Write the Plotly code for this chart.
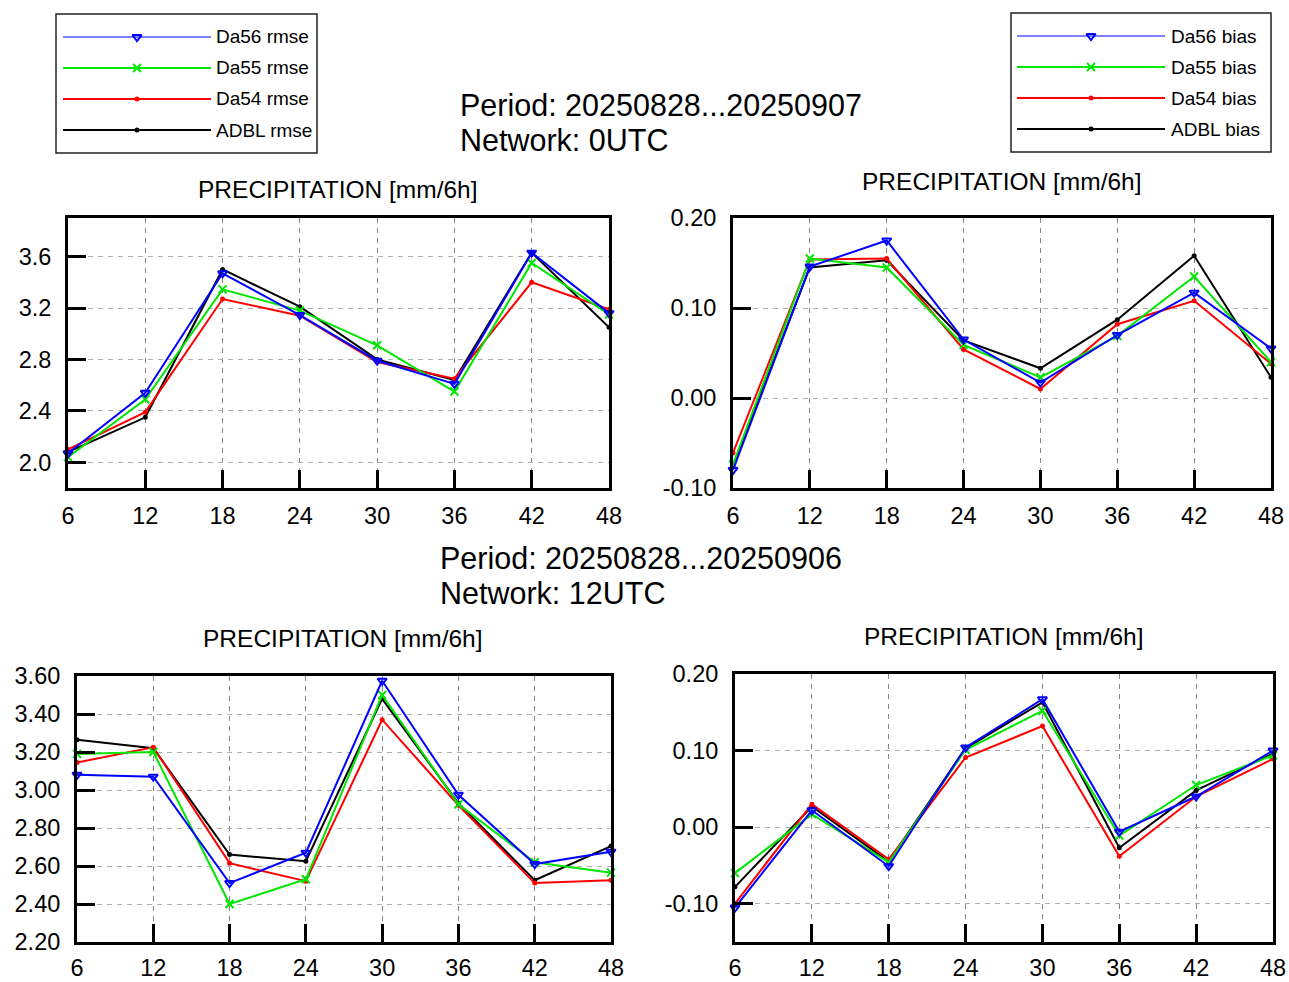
import plotly.graph_objects as go

W, H = 1289, 982
FONT = "Liberation Sans, Arial, Helvetica, sans-serif"

# Forecast lead times (hours)
leads = [6, 12, 18, 24, 30, 36, 42, 48]
x_ticks = [6, 12, 18, 24, 30, 36, 42, 48]

# Network 0UTC, RMSE
rmse00_da56 = [2.07, 2.54, 3.47, 3.145, 2.79, 2.61, 3.63, 3.16]
rmse00_da55 = [2.04, 2.49, 3.345, 3.18, 2.91, 2.55, 3.55, 3.15]
rmse00_da54 = [2.10, 2.39, 3.27, 3.14, 2.78, 2.65, 3.40, 3.19]
rmse00_adbl = [2.08, 2.35, 3.50, 3.21, 2.80, 2.64, 3.63, 3.05]

# Network 0UTC, bias
bias00_da56 = [-0.080, 0.146, 0.175, 0.065, 0.017, 0.070, 0.117, 0.055]
bias00_da55 = [-0.074, 0.155, 0.145, 0.059, 0.023, 0.069, 0.135, 0.040]
bias00_da54 = [-0.061, 0.154, 0.155, 0.054, 0.010, 0.082, 0.108, 0.038]
bias00_adbl = [-0.075, 0.145, 0.153, 0.064, 0.033, 0.087, 0.158, 0.023]

# Network 12UTC, RMSE
rmse12_da56 = [3.08, 3.07, 2.51, 2.67, 3.575, 2.975, 2.61, 2.675]
rmse12_da55 = [3.19, 3.20, 2.40, 2.53, 3.50, 2.925, 2.62, 2.565]
rmse12_da54 = [3.145, 3.225, 2.615, 2.52, 3.37, 2.92, 2.51, 2.525]
rmse12_adbl = [3.265, 3.22, 2.66, 2.625, 3.48, 2.93, 2.525, 2.705]

# Network 12UTC, bias
bias12_da56 = [-0.105, 0.022, -0.051, 0.104, 0.167, -0.006, 0.040, 0.100]
bias12_da55 = [-0.060, 0.017, -0.046, 0.101, 0.152, -0.011, 0.055, 0.094]
bias12_da54 = [-0.100, 0.030, -0.042, 0.091, 0.132, -0.038, 0.040, 0.089]
bias12_adbl = [-0.078, 0.027, -0.045, 0.103, 0.163, -0.027, 0.048, 0.096]

rmse_ticks_00 = [2.0, 2.4, 2.8, 3.2, 3.6]
rmse_ticks_12 = [2.2, 2.4, 2.6, 2.8, 3.0, 3.2, 3.4, 3.6]
bias_ticks = [-0.10, 0.00, 0.10, 0.20]

experiments = ["Da56", "Da55", "Da54", "ADBL"]
period_00 = "Period: 20250828...20250907"
period_12 = "Period: 20250828...20250906"
network_00 = "Network: 0UTC"
network_12 = "Network: 12UTC"
panel_title = "PRECIPITATION [mm/6h]"

BLUE, GREEN, RED, BLACK = "#0000ff", "#00e600", "#ff0000", "#000000"
style = {
    "Da56": dict(color=BLUE, symbol="triangle-down-open", size=8),
    "Da55": dict(color=GREEN, symbol="x-thin-open", size=8),
    "Da54": dict(color=RED, symbol="circle", size=3),
    "ADBL": dict(color=BLACK, symbol="circle", size=3),
}


def px_domain(x0, x1, y0, y1):
    return [x0 / W, x1 / W], [1 - y1 / H, 1 - y0 / H]


def tick_text(values, decimals):
    # plain ASCII hyphen for negative labels
    return [f"{v:.{decimals}f}" for v in values]


fig = go.Figure()

panels = [
    # (axis suffix, box pixels, series dict, y range, y ticks, decimals, x label standoff)
    ("", (68, 609, 218, 488),
     {"Da56": rmse00_da56, "Da55": rmse00_da55, "Da54": rmse00_da54, "ADBL": rmse00_adbl},
     [1.8, 3.9], rmse_ticks_00, 1, 5),
    ("2", (733, 1271, 218, 488),
     {"Da56": bias00_da56, "Da55": bias00_da55, "Da54": bias00_da54, "ADBL": bias00_adbl},
     [-0.10, 0.20], bias_ticks, 2, 5),
    ("3", (77, 611, 676, 942),
     {"Da56": rmse12_da56, "Da55": rmse12_da55, "Da54": rmse12_da54, "ADBL": rmse12_adbl},
     [2.2, 3.6], rmse_ticks_12, 2, 3),
    ("4", (735, 1273, 674, 942),
     {"Da56": bias12_da56, "Da55": bias12_da55, "Da54": bias12_da54, "ADBL": bias12_adbl},
     [-0.15, 0.20], bias_ticks, 2, 3),
]

layout_axes = {}
for suffix, (x0, x1, y0, y1), series, yrange, yticks, dec, xstand in panels:
    xd, yd = px_domain(x0, x1, y0, y1)
    xa, ya = "x" + suffix, "y" + suffix
    for name in ["ADBL", "Da54", "Da55", "Da56"]:
        s = style[name]
        fig.add_trace(go.Scatter(
            x=leads, y=series[name], xaxis=xa, yaxis=ya, mode="lines+markers",
            line=dict(color=s["color"], width=2),
            marker=dict(symbol=s["symbol"], size=s["size"], color=s["color"],
                        line=dict(color=s["color"], width=2)),
            cliponaxis=False, showlegend=False, name=name,
        ))
    common = dict(showline=True, linecolor="black", linewidth=3, mirror=True,
                  ticks="inside", ticklen=18, tickwidth=3, tickcolor="black",
                  showgrid=True, griddash="5px,5px", gridwidth=1, zeroline=False,
                  automargin=False,
                  tickfont=dict(family=FONT, size=23.5, color="black"))
    layout_axes["xaxis" + suffix] = dict(
        domain=xd, range=[6, 48], tickvals=x_ticks, anchor=ya,
        gridcolor="#858585", ticklabelstandoff=xstand, **common)
    layout_axes["yaxis" + suffix] = dict(
        domain=yd, range=yrange, tickvals=yticks, ticktext=tick_text(yticks, dec),
        anchor=xa, gridcolor="#b0b0b0", ticklabelstandoff=9, **common)

# Full-page pixel axis for the two legend boxes
layout_axes["xaxis5"] = dict(domain=[0, 1], range=[0, W], visible=False,
                             fixedrange=True, automargin=False, anchor="y5")
layout_axes["yaxis5"] = dict(domain=[0, 1], range=[H, 0], visible=False,
                             fixedrange=True, automargin=False, anchor="x5")

legend_boxes = [
    # (box, line x0, line x1, text x, row ys, suffix)
    ((56, 317, 14, 153), 63, 211, 214, [37, 68, 99, 130], "rmse"),
    ((1011, 1271, 13, 152), 1017, 1165, 1169, [36, 67, 98, 129], "bias"),
]
shapes, annotations = [], []
legend_line_colors = {"Da56": "#7f7fff", "Da55": GREEN, "Da54": RED, "ADBL": BLACK}
for (bx0, bx1, by0, by1), lx0, lx1, tx, rows, label in legend_boxes:
    shapes.append(dict(type="rect", xref="paper", yref="paper",
                       x0=bx0 / W, x1=bx1 / W, y0=1 - by1 / H, y1=1 - by0 / H,
                       line=dict(color="#222222", width=1.5)))
    for name, ry in zip(experiments, rows):
        s = style[name]
        fig.add_trace(go.Scatter(
            x=[lx0, lx1], y=[ry, ry], xaxis="x5", yaxis="y5", mode="lines",
            line=dict(color=legend_line_colors[name], width=2),
            showlegend=False, hoverinfo="skip"))
        fig.add_trace(go.Scatter(
            x=[(lx0 + lx1) / 2], y=[ry], xaxis="x5", yaxis="y5", mode="markers",
            marker=dict(symbol=s["symbol"], size=s["size"], color=s["color"],
                        line=dict(color=s["color"], width=2)),
            showlegend=False, hoverinfo="skip"))
        annotations.append(dict(
            text=f"{name} {label}", xref="paper", yref="paper",
            x=tx / W, y=1 - ry / H, xanchor="left", yanchor="middle",
            showarrow=False, font=dict(family=FONT, size=19, color="black")))

# Header lines and panel titles
headers = [
    (period_00, 458, 105), (network_00, 458, 140),
    (period_12, 438, 558), (network_12, 438, 593),
]
for text, hx, hy in headers:
    annotations.append(dict(text=text, xref="paper", yref="paper", x=hx / W, y=1 - hy / H,
                            xanchor="left", yanchor="middle", showarrow=False,
                            font=dict(family=FONT, size=30.5, color="black")))

titles = [(338, 189), (1002, 182), (343, 638), (1004, 636)]
for tx, ty in titles:
    annotations.append(dict(text=panel_title, xref="paper", yref="paper", x=tx / W, y=1 - ty / H,
                            xanchor="center", yanchor="middle", showarrow=False,
                            font=dict(family=FONT, size=24.5, color="black")))

fig.update_layout(
    width=W, height=H, margin=dict(l=0, r=0, t=0, b=0, pad=0, autoexpand=False),
    paper_bgcolor="white", plot_bgcolor="rgba(0,0,0,0)", showlegend=False,
    shapes=shapes, annotations=annotations,
    font=dict(family=FONT, color="black"),
    **layout_axes,
)

fig.write_html("out.html")
